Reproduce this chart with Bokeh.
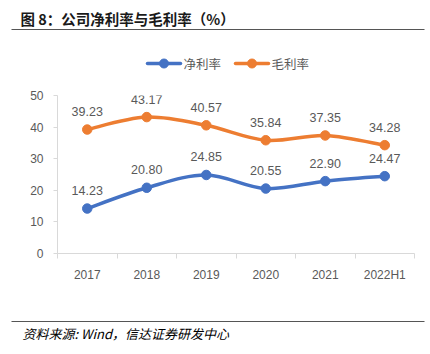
from bokeh.plotting import figure
from bokeh.layouts import column
from bokeh.models import Range1d, FixedTicker, ColumnDataSource
from bokeh.core.properties import value
from bokeh.embed import file_html
from bokeh.resources import INLINE

categories = ["2017", "2018", "2019", "2020", "2021", "2022H1"]
net_margin = [14.23, 20.80, 24.85, 20.55, 22.90, 24.47]
gross_margin = [39.23, 43.17, 40.57, 35.84, 37.35, 34.28]
y_ticks = [0, 10, 20, 30, 40, 50]
series_names = ["净利率", "毛利率"]
title_text = "图 8：公司净利率与毛利率（%）"
source_text = "资料来源: Wind，信达证券研发中心"

BLUE = "#4472C4"
ORANGE = "#ED7D31"
GRAY_TXT = "#595959"
AXIS = "#D9D9D9"
RULE = "#555555"
CJK = value("Noto Sans CJK SC")
LAT = "Liberation Sans"

W = 430
RULE_L, RULE_R = 11, 424


def rule_axis(f):
    """Use the figure's own x axis line (no ticks, no labels) as a horizontal rule."""
    ax = f.xaxis[0]
    ax.ticker = FixedTicker(ticks=[])
    ax.major_tick_out = 0
    ax.major_tick_in = 0
    ax.minor_tick_out = 0
    ax.minor_tick_in = 0
    ax.major_label_standoff = 0
    ax.major_label_text_font_size = "0px"
    ax.axis_line_color = RULE
    ax.axis_line_width = 1.2


# ---------- title band with rule underneath ----------
top = figure(width=W, height=31, x_range=Range1d(RULE_L, RULE_R), y_range=Range1d(29, 0),
             output_backend="svg", toolbar_location=None, x_axis_location="below",
             y_axis_location=None, min_border_left=RULE_L, min_border_right=W - RULE_R,
             min_border_top=0, min_border_bottom=2, outline_line_color=None)
top.grid.visible = False
top.frame_align = False
rule_axis(top)
top.text(x=[20], y=[18], text=[title_text], text_font=CJK, text_font_style="bold",
         text_font_size="14.5px", text_color="#1a1a1a", text_baseline="middle")

# ---------- legend band ----------
leg = figure(width=W, height=49, x_range=Range1d(0, W), y_range=Range1d(80, 31),
             output_backend="svg", toolbar_location=None, x_axis_location=None,
             y_axis_location=None, min_border=0, outline_line_color=None)
leg.grid.visible = False
leg.frame_align = False
for x0, c, name in ((147, BLUE, series_names[0]), (235, ORANGE, series_names[1])):
    leg.segment(x0=[x0], y0=[63], x1=[x0 + 33], y1=[63], line_color=c, line_width=3.5,
                line_cap="round")
    leg.scatter(x=[x0 + 16.5], y=[63], size=9, color=c)
    leg.text(x=[x0 + 36], y=[63], text=[name], text_font=CJK, text_font_size="12.5px",
             text_color=GRAY_TXT, text_baseline="middle")

# ---------- main chart ----------
xs = list(range(len(categories)))
p = figure(width=W, height=240, x_range=Range1d(-0.5, len(categories) - 0.5),
           y_range=Range1d(0, 50), output_backend="svg", toolbar_location=None,
           min_border_left=57, min_border_right=16, min_border_top=15,
           min_border_bottom=67, outline_line_color=None)
p.grid.visible = False
p.frame_align = False

p.xaxis.ticker = FixedTicker(ticks=xs, minor_ticks=[i - 0.5 for i in range(len(categories) + 1)])
p.xaxis.major_label_overrides = {i: c for i, c in enumerate(categories)}
p.xaxis.major_tick_in = 0
p.xaxis.major_tick_out = 0
p.xaxis.minor_tick_in = 0
p.xaxis.minor_tick_out = 5
p.xaxis.minor_tick_line_color = AXIS
p.xaxis.major_label_standoff = 9

p.yaxis.ticker = FixedTicker(ticks=y_ticks)
p.yaxis.major_tick_in = 0
p.yaxis.major_tick_out = 4
p.yaxis.minor_tick_out = 0
p.yaxis.minor_tick_in = 0
p.yaxis.major_label_standoff = 10

for ax in (p.xaxis, p.yaxis):
    ax.axis_line_color = AXIS
    ax.major_tick_line_color = AXIS
    ax.major_label_text_color = GRAY_TXT
    ax.major_label_text_font = LAT
    ax.major_label_text_font_size = "12px"


def smooth_segments(x, y):
    n = len(x)
    d = dict(x0=[], y0=[], x1=[], y1=[], cx0=[], cy0=[], cx1=[], cy1=[])
    for i in range(n - 1):
        a = max(i - 1, 0)
        b = min(i + 2, n - 1)
        d["x0"].append(x[i]); d["y0"].append(y[i])
        d["x1"].append(x[i + 1]); d["y1"].append(y[i + 1])
        d["cx0"].append(x[i] + (x[i + 1] - x[a]) / 6)
        d["cy0"].append(y[i] + (y[i + 1] - y[a]) / 6)
        d["cx1"].append(x[i + 1] - (x[b] - x[i]) / 6)
        d["cy1"].append(y[i + 1] - (y[b] - y[i]) / 6)
    return ColumnDataSource(d)


for vals, c in ((gross_margin, ORANGE), (net_margin, BLUE)):
    p.bezier(x0="x0", y0="y0", x1="x1", y1="y1", cx0="cx0", cy0="cy0",
             cx1="cx1", cy1="cy1", source=smooth_segments(xs, vals),
             line_color=c, line_width=3.5, line_cap="round")
    p.scatter(x=xs, y=vals, size=9.5, color=c)
    p.text(x=xs, y=vals, text=[f"{v:.2f}" for v in vals], y_offset=-18,
           text_align="center", text_baseline="middle", text_font=value(LAT),
           text_font_size="12.5px", text_color=GRAY_TXT)

# ---------- footer: rule on top, source note ----------
ftr = figure(width=W, height=32, x_range=Range1d(RULE_L, RULE_R), y_range=Range1d(352, 321),
             output_backend="svg", toolbar_location=None, x_axis_location="above",
             y_axis_location=None, min_border_left=RULE_L, min_border_right=W - RULE_R,
             min_border_top=1, min_border_bottom=0, outline_line_color=None)
ftr.grid.visible = False
ftr.frame_align = False
rule_axis(ftr)
ftr.text(x=[22], y=[333], text=[source_text], text_font=CJK, text_font_style="italic",
         text_font_size="13px", text_color="#000000", text_baseline="middle")

layout = column(top, leg, p, ftr, spacing=0)
open("out.html", "w").write(file_html(layout, INLINE))
